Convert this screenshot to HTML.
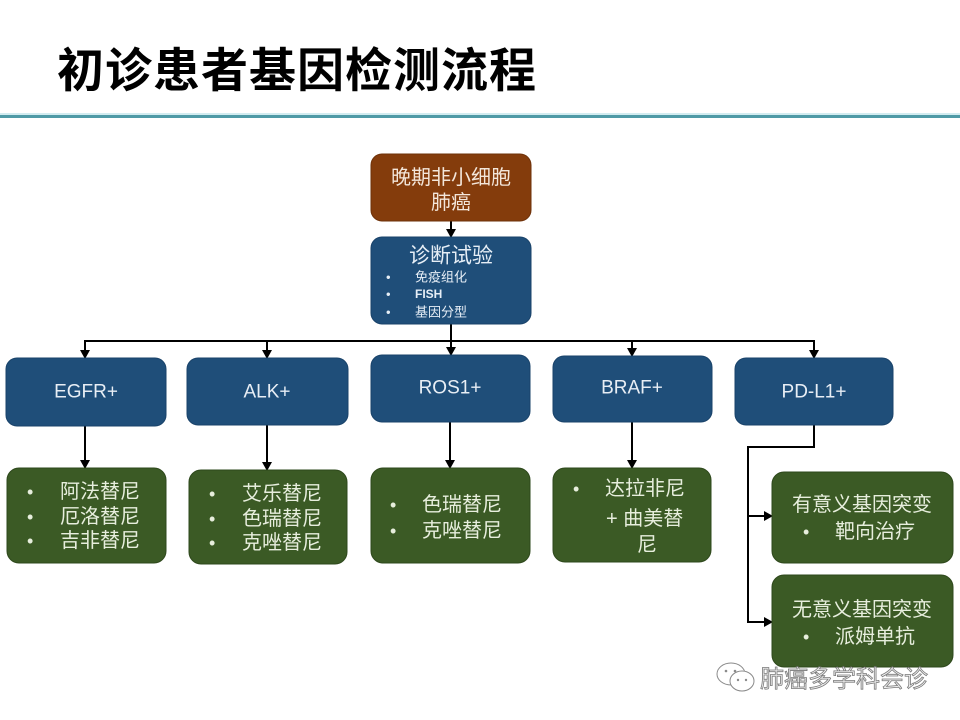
<!DOCTYPE html>
<html>
<head>
<meta charset="utf-8">
<style>
  html, body { margin:0; padding:0; background:#ffffff; }
  body { width:960px; height:720px; overflow:hidden; }
  svg { display:block; }
  .cjk { font-family: "Liberation Sans", "Noto Sans CJK SC", "WenQuanYi Zen Hei", sans-serif; }
</style>
</head>
<body>
<svg width="960" height="720" viewBox="0 0 960 720" xmlns="http://www.w3.org/2000/svg" class="cjk">
  <rect x="0" y="0" width="960" height="720" fill="#ffffff"/>

  <!-- Title -->
  <text x="57" y="87" font-size="47" font-weight="bold" fill="#000" font-family="'Liberation Sans','Noto Sans CJK SC',sans-serif" letter-spacing="1">初诊患者基因检测流程</text>
  <rect x="0" y="113" width="960" height="2" fill="#d2ecf0"/>
  <rect x="0" y="115" width="960" height="3" fill="#4f9aa6"/>

  <!-- Connectors -->
  <g stroke="#000" stroke-width="2" fill="none">
    <line x1="451" y1="221" x2="451" y2="230"/>
    <line x1="451" y1="324" x2="451" y2="348"/>
    <line x1="85" y1="341" x2="815" y2="341"/>
    <line x1="85" y1="340" x2="85" y2="351"/>
    <line x1="267" y1="340" x2="267" y2="351"/>
    <line x1="632" y1="340" x2="632" y2="349"/>
    <line x1="814" y1="340" x2="814" y2="351"/>
    <line x1="85" y1="426" x2="85" y2="461"/>
    <line x1="267" y1="425" x2="267" y2="463"/>
    <line x1="450" y1="422" x2="450" y2="461"/>
    <line x1="632" y1="422" x2="632" y2="461"/>
    <polyline points="814,425 814,447 748,447 748,622 765,622"/>
    <line x1="748" y1="516" x2="765" y2="516"/>
  </g>
  <g fill="#000">
    <polygon points="446,229 456,229 451,238"/>
    <polygon points="446,347 456,347 451,356"/>
    <polygon points="80,350 90,350 85,359"/>
    <polygon points="262,350 272,350 267,359"/>
    <polygon points="627,348 637,348 632,357"/>
    <polygon points="809,350 819,350 814,359"/>
    <polygon points="80,460 90,460 85,469"/>
    <polygon points="262,462 272,462 267,471"/>
    <polygon points="445,460 455,460 450,469"/>
    <polygon points="627,460 637,460 632,469"/>
    <polygon points="764,511 764,521 773,516"/>
    <polygon points="764,617 764,627 773,622"/>
  </g>

  <!-- Top brown box -->
  <rect x="371" y="154" width="160" height="67" rx="11" fill="#843c0c" stroke="#6e320a" stroke-width="1"/>
  <g fill="#f3e6da" font-size="20" text-anchor="middle" dominant-baseline="central">
    <text x="451" y="178">晚期非小细胞</text>
    <text x="451" y="203">肺癌</text>
  </g>

  <!-- Diagnostic box -->
  <rect x="371" y="237" width="160" height="87" rx="11" fill="#1f4e79" stroke="#1a436a" stroke-width="1"/>
  <text x="451" y="256" fill="#e6eef6" font-size="21" text-anchor="middle" dominant-baseline="central">诊断试验</text>
  <g fill="#e6eef6" font-size="13" dominant-baseline="central">
    <text x="386" y="277">•</text><text x="415" y="277">免疫组化</text>
    <text x="386" y="294">•</text><text x="415" y="294" font-weight="bold" font-size="12">FISH</text>
    <text x="386" y="312">•</text><text x="415" y="312">基因分型</text>
  </g>

  <!-- Level 2 blue boxes -->
  <g fill="#1f4e79" stroke="#1a436a" stroke-width="1">
    <rect x="6" y="358" width="160" height="68" rx="11"/>
    <rect x="187" y="358" width="161" height="67" rx="11"/>
    <rect x="371" y="355" width="159" height="67" rx="11"/>
    <rect x="553" y="356" width="159" height="66" rx="11"/>
    <rect x="735" y="358" width="158" height="67" rx="11"/>
  </g>
  <g fill="#e8eef5" font-size="19" text-anchor="middle" dominant-baseline="central">
    <text x="86" y="392">EGFR+</text>
    <text x="267" y="392">ALK+</text>
    <text x="450" y="388">ROS1+</text>
    <text x="632" y="388">BRAF+</text>
    <text x="814" y="392">PD-L1+</text>
  </g>

  <!-- Green boxes -->
  <g fill="#3b5a25" stroke="#2e481c" stroke-width="1">
    <rect x="7" y="468" width="159" height="95" rx="12"/>
    <rect x="189" y="470" width="158" height="94" rx="12"/>
    <rect x="371" y="468" width="159" height="95" rx="12"/>
    <rect x="553" y="468" width="158" height="94" rx="12"/>
    <rect x="772" y="472" width="181" height="91" rx="12"/>
    <rect x="772" y="575" width="181" height="92" rx="12"/>
  </g>
  <g fill="#e7eedd" font-size="20" dominant-baseline="central">
    <!-- EGFR -->
    <text x="27" y="492" font-size="18">•</text><text x="60" y="492">阿法替尼</text>
    <text x="27" y="517" font-size="18">•</text><text x="60" y="517">厄洛替尼</text>
    <text x="27" y="541" font-size="18">•</text><text x="60" y="541">吉非替尼</text>
    <!-- ALK -->
    <text x="209" y="494" font-size="18">•</text><text x="242" y="494">艾乐替尼</text>
    <text x="209" y="519" font-size="18">•</text><text x="242" y="519">色瑞替尼</text>
    <text x="209" y="543" font-size="18">•</text><text x="242" y="543">克唑替尼</text>
    <!-- ROS1 -->
    <text x="390" y="505" font-size="18">•</text><text x="422" y="505">色瑞替尼</text>
    <text x="390" y="531" font-size="18">•</text><text x="422" y="531">克唑替尼</text>
    <!-- BRAF -->
    <text x="573" y="489" font-size="18">•</text><text x="605" y="489">达拉非尼</text>
    <text x="606" y="519">+ 曲美替</text>
    <text x="637" y="545">尼</text>
    <!-- PD-L1 sub boxes -->
    <text x="862" y="505" text-anchor="middle">有意义基因突变</text>
    <text x="803" y="532" font-size="18">•</text><text x="835" y="532">靶向治疗</text>
    <text x="862" y="610" text-anchor="middle">无意义基因突变</text>
    <text x="803" y="637" font-size="18">•</text><text x="835" y="637">派姆单抗</text>
  </g>

  <!-- Watermark -->
  <g fill="#ffffff" stroke="#8a8a8a" stroke-width="1">
    <ellipse cx="731" cy="674" rx="14" ry="11"/>
    <ellipse cx="742" cy="681" rx="12" ry="10"/>
  </g>
  <g fill="#8a8a8a">
    <circle cx="726" cy="671" r="1.3"/><circle cx="735" cy="671" r="1.3"/>
    <circle cx="738" cy="680" r="1.2"/><circle cx="746" cy="680" r="1.2"/>
  </g>
  <text x="760" y="687" font-size="24" fill="#eeeeee" stroke="#7a7a7a" stroke-width="0.8">肺癌多学科会诊</text>
</svg>
</body>
</html>
